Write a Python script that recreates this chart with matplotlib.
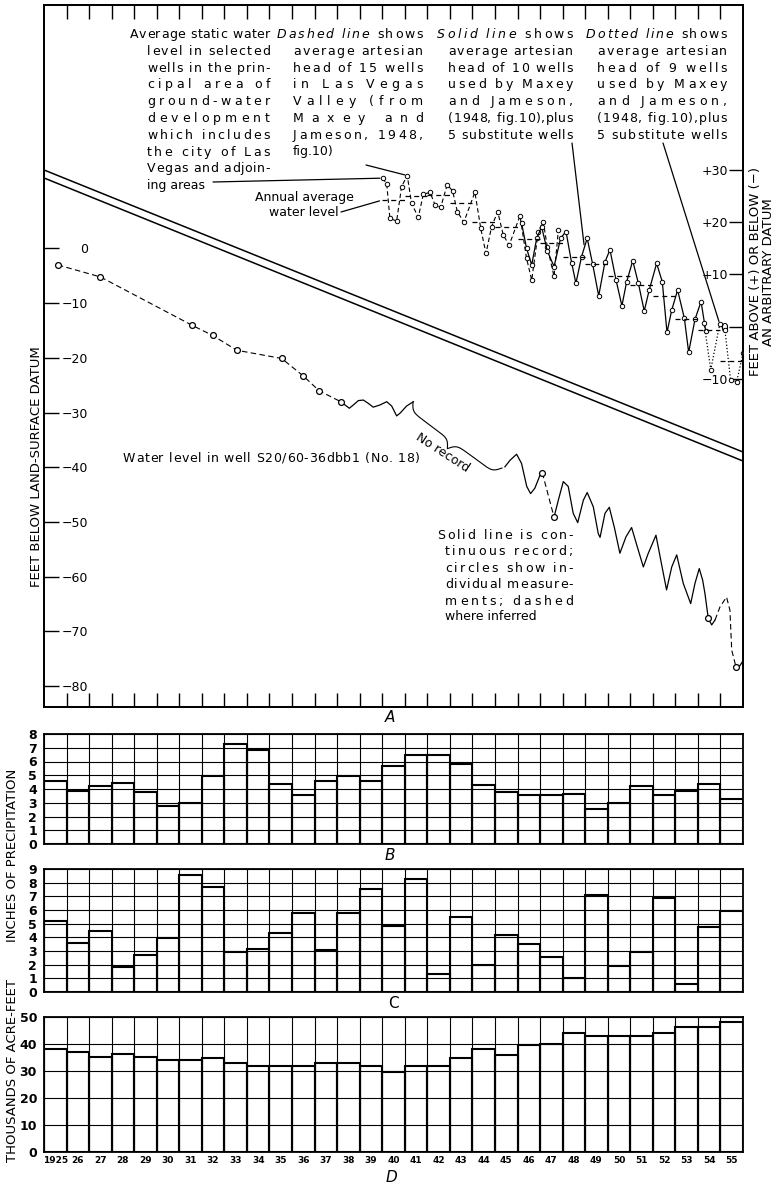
import numpy as np
import matplotlib
matplotlib.use('Agg')
import matplotlib.pyplot as plt

# ---- data ----
years = np.arange(1925, 1956)
year_labels = ['1925'] + [str(y)[2:] for y in range(1926, 1956)]

# B - precipitation, inches
precip_b = [4.55, 3.85, 4.2, 4.45, 3.75, 2.8, 2.95, 4.95, 7.25, 6.85, 4.4, 3.6, 4.6, 4.95, 4.55,
            5.65, 6.5, 6.45, 5.8, 4.3, 3.75, 3.55, 3.6, 3.65, 2.55, 3.0, 4.25, 3.55, 3.85, 4.4, 3.3]
# C - precipitation, inches
precip_c = [5.2, 3.55, 4.45, 1.8, 2.7, 3.95, 8.55, 7.65, 2.9, 3.15, 4.3, 5.75, 3.05, 5.8, 7.55,
            4.85, 8.3, 1.3, 5.5, 1.95, 4.2, 3.5, 2.55, 1.0, 7.1, 1.9, 2.95, 6.9, 0.55, 4.75, 5.9]
# D - thousands of acre-feet
pumpage_d = [38.0, 37.0, 35.1, 36.2, 35.1, 33.9, 33.9, 35.0, 32.9, 32.0, 31.9, 32.0, 32.9, 33.1, 31.9,
             29.8, 32.0, 31.9, 35.0, 38.1, 36.0, 39.7, 40.1, 44.0, 43.1, 42.9, 43.1, 43.9, 46.2, 46.2, 48.1]

# A - well S20/60-36dbb1, feet below land surface
well_meas_t = [1925.61, 1927.5, 1931.55, 1932.48, 1933.55, 1935.54, 1936.5, 1937.2, 1938.16]
well_meas_v = [-3.0, -5.2, -14.0, -15.9, -18.6, -20.1, -23.3, -26.0, -28.0]
rec1_t = [1938.16, 1938.35, 1938.54, 1938.72, 1938.94, 1939.16, 1939.38, 1939.6, 1939.9, 1940.2,
          1940.42, 1940.64, 1940.79, 1941.08, 1941.38]
rec1_v = [-28.0, -28.6, -29.2, -28.6, -27.8, -27.7, -28.3, -29.0, -28.6, -28.0,
          -28.8, -30.6, -30.1, -28.8, -28.0]
rec2_t = [1945.44, 1945.67, 1945.96, 1946.18, 1946.41, 1946.58, 1946.77, 1947.0, 1947.1]
rec2_v = [-39.9, -38.7, -37.6, -39.3, -43.5, -44.8, -43.8, -41.4, -41.0]
gap2_t = [1947.1, 1947.62]
gap2_v = [-41.0, -49.1]
rec3_t = [1947.62, 1947.81, 1948.03, 1948.25, 1948.47, 1948.67, 1948.92, 1949.09, 1949.36, 1949.58,
          1949.66, 1949.88, 1950.07, 1950.29, 1950.54, 1950.81, 1951.06, 1951.31, 1951.58, 1951.8,
          1952.14, 1952.35, 1952.61, 1952.84, 1953.06, 1953.35, 1953.68, 1953.87, 1954.06, 1954.21,
          1954.31, 1954.46, 1954.61, 1954.76]
rec3_v = [-49.1, -46.0, -42.6, -43.5, -48.4, -50.1, -46.0, -44.6, -47.2, -52.1,
          -52.8, -48.4, -47.3, -50.9, -55.7, -52.7, -51.0, -54.5, -58.2, -55.7,
          -52.4, -56.9, -62.4, -58.2, -56.0, -61.2, -64.9, -61.2, -58.5, -60.6,
          -63.0, -67.6, -68.8, -67.9]
gap3_t = [1954.76, 1954.98, 1955.27, 1955.42, 1955.5, 1955.69]
gap3_v = [-67.9, -65.5, -63.7, -66.1, -73.4, -76.5]
rec4_t = [1955.69, 1955.79, 1955.98]
rec4_v = [-76.5, -76.7, -75.5]
extra_meas_t = [1947.1, 1947.62, 1954.46, 1955.69]
extra_meas_v = [-41.0, -49.1, -67.6, -76.5]

# A - average artesian head, feet above/below arbitrary datum
dashed_t = [1940.02, 1940.2, 1940.34, 1940.64, 1940.86, 1941.11, 1941.3, 1941.6, 1941.82, 1942.12,
            1942.34, 1942.59, 1942.88, 1943.12, 1943.33, 1943.62, 1944.11, 1944.37, 1944.6, 1944.85,
            1945.12, 1945.37, 1945.63, 1946.11, 1946.4, 1946.63, 1946.92, 1947.14, 1947.32, 1947.62,
            1947.81]
dashed_v = [28.4, 27.3, 20.7, 20.2, 26.8, 28.9, 23.6, 20.9, 25.3, 25.7,
            23.3, 22.8, 27.1, 26.0, 22.0, 20.0, 25.7, 18.8, 14.0, 19.1,
            22.0, 17.5, 15.6, 21.2, 13.1, 8.9, 18.2, 20.1, 15.3, 9.6,
            18.4]
solid_t = [1946.18, 1946.4, 1946.63, 1946.85, 1947.07, 1947.32, 1947.62, 1947.91, 1948.15, 1948.4,
           1948.59, 1948.84, 1949.09, 1949.33, 1949.6, 1949.88, 1950.1, 1950.37, 1950.63, 1950.84,
           1951.11, 1951.36, 1951.62, 1951.84, 1952.17, 1952.42, 1952.63, 1952.84, 1953.1, 1953.4,
           1953.59, 1953.87, 1954.14, 1954.35]
solid_v = [19.8, 15.0, 11.8, 16.9, 19.1, 14.5, 11.5, 16.9, 18.2, 12.2,
           8.3, 13.4, 16.9, 12.0, 5.9, 12.4, 14.7, 8.9, 4.0, 8.6,
           12.6, 8.3, 3.0, 7.0, 12.1, 8.6, -1.1, 3.2, 7.0, 1.6,
           -4.9, 1.4, 4.8, -0.9]
dotted_t = [1954.27, 1954.57, 1954.97, 1955.2, 1955.45, 1955.72, 1956.0]
dotted_v = [0.7, -8.2, 0.5, -0.7, -10.2, -10.5, -5.1]

avg_dashed_yr = [1940, 1941, 1942, 1943, 1944, 1945, 1946, 1947]
avg_dashed_v = [24.2, 24.9, 25.2, 23.6, 20.0, 19.1, 16.7, 16.0]
avg_solid_yr = [1948, 1949, 1950, 1951, 1952, 1953, 1954]
avg_solid_v = [13.3, 12.0, 9.6, 8.0, 5.9, 1.4, -0.6]
avg_dotted_yr = [1955]
avg_dotted_v = [-6.5]

left_ticks = [0, -10, -20, -30, -40, -50, -60, -70, -80]
right_ticks = [30, 20, 10, 0, -10]

# ---- figure ----
W_PX, H_PX = 780, 1184
fig = plt.figure(figsize=(7.8, 11.84), dpi=100)
renderer = fig.canvas.get_renderer()


def px(x, y):
    return x / W_PX, 1 - y / H_PX


def box(top, bot):
    return [44 / W_PX, (H_PX - bot) / H_PX, 699 / W_PX, (bot - top) / H_PX]


def fmt(v, plus=False):
    if v < 0:
        return '\u2212%d' % -v
    if v > 0 and plus:
        return '+%d' % v
    return '%d' % v


FS = 9


def justify(line, x0, x1, y, italic_chars=0, fs=FS):
    # letter-spaced line filling x0..x1, as in the typeset original
    sp = 0.318 * fs * 100 / 72
    items = []
    for i, ch in enumerate(line):
        if ch == ' ':
            items.append((None, sp))
            continue
        t = fig.text(0, 0, ch, fontsize=fs, va='baseline', ha='left',
                     style='italic' if i < italic_chars else 'normal')
        items.append((t, t.get_window_extent(renderer).width))
    total = sum(w for _, w in items)
    gap = (x1 - x0 - total) / max(len(items) - 1, 1)
    x = x0
    for t, w in items:
        if t is not None:
            t.set_position(px(x, y + 4))
        x += w + gap


def block(lines, first_left, left, right, y0=34, dy=16.8, italic_chars=0, fs=FS, full_last=False):
    for i, line in enumerate(lines):
        y = y0 + dy * i
        if i == len(lines) - 1 and not full_last:
            fig.text(*px(left, y), line, ha='left', va='center', fontsize=fs)
        else:
            justify(line, first_left if i == 0 else left, right, y,
                    italic_chars if i == 0 else 0, fs)


# panel A
axA = fig.add_axes(box(5, 707))
axA.set_xlim(1925, 1956)
axA.set_ylim(-83.8, 44.5)
axR = axA.twinx()
axR.set_ylim(-72.7, 61.5)

for ax in (axA, axR):
    for s in ax.spines.values():
        s.set_linewidth(1.3)

axA.set_xticks(np.arange(1926, 1956))
axA.tick_params(axis='x', direction='in', length=10, width=1, top=True, labelbottom=False)
axA.set_yticks(left_ticks)
axA.set_yticklabels([fmt(v) for v in left_ticks])
axA.tick_params(axis='y', direction='in', length=11, width=1, pad=-31.7, labelsize=9)

axR.set_yticks(right_ticks)
axR.set_yticklabels([fmt(v, plus=True) for v in right_ticks])
axR.tick_params(axis='y', direction='in', length=10, width=1, pad=-10.5, labelsize=9)
for t in axR.get_yticklabels():
    t.set_horizontalalignment('right')

# break lines
axA.plot([0, 1], [0.765, 0.3632], transform=axA.transAxes, color='k', lw=1.1)
axA.plot([0, 1], [0.7536, 0.3504], transform=axA.transAxes, color='k', lw=1.1)

# well hydrograph
dash = (5, 3)
axA.plot(well_meas_t + [rec1_t[0]], well_meas_v + [rec1_v[0]], color='k', lw=0.8, dashes=dash)
axA.plot(rec1_t, rec1_v, color='k', lw=0.9)
axA.plot(rec2_t, rec2_v, color='k', lw=0.9)
axA.plot(gap2_t, gap2_v, color='k', lw=0.8, dashes=dash)
axA.plot(rec3_t, rec3_v, color='k', lw=0.9)
axA.plot(gap3_t, gap3_v, color='k', lw=0.8, dashes=dash)
axA.plot(rec4_t, rec4_v, color='k', lw=0.9)
axA.plot(well_meas_t + extra_meas_t, well_meas_v + extra_meas_v, 'o', ms=4.2,
         mfc='white', mec='k', mew=0.9)

# artesian head
mk = dict(marker='o', ms=3.2, mfc='white', mec='k', mew=0.7)
axR.plot(dashed_t, dashed_v, color='k', lw=0.8, dashes=(4, 2.5), **mk)
axR.plot(solid_t, solid_v, color='k', lw=0.9, **mk)
axR.plot(dotted_t, dotted_v, color='k', lw=0.9, ls=':', **mk)
for yrs, vals in ((avg_dashed_yr, avg_dashed_v), (avg_solid_yr, avg_solid_v),
                  (avg_dotted_yr, avg_dotted_v)):
    for y, v in zip(yrs, vals):
        axR.plot([y, y + 1], [v, v], color='k', lw=0.9, dashes=(4, 3))

# leaders
lead = dict(arrowstyle='-', color='k', lw=0.9, shrinkA=0, shrinkB=2)
axR.annotate('', xy=(dashed_t[0], dashed_v[0]), xytext=px(213, 182),
             textcoords='figure fraction', arrowprops=lead)
axR.annotate('', xy=(avg_dashed_yr[0], avg_dashed_v[0]), xytext=px(341, 212),
             textcoords='figure fraction', arrowprops=lead)
axR.annotate('', xy=(dashed_t[5], dashed_v[5]), xytext=px(366, 165),
             textcoords='figure fraction', arrowprops=lead)
axR.annotate('', xy=((solid_t[11] + solid_t[12]) / 2, (solid_v[11] + solid_v[12]) / 2),
             xytext=px(572, 143), textcoords='figure fraction', arrowprops=lead)
axR.annotate('', xy=(dotted_t[2], dotted_v[2]), xytext=px(663, 143),
             textcoords='figure fraction', arrowprops=lead)

# text blocks
block(["Average static water", "level in selected", "wells in the prin-", "cipal area of",
       "ground-water", "development", "which includes", "the city of Las",
       "Vegas and adjoin-", "ing areas"], 130, 147, 270)
block(["Dashed line shows", "average artesian", "head of 15 wells", "in Las Vegas", "Valley (from",
       "Maxey and", "Jameson, 1948,", "fig.10)"], 277, 293, 423, italic_chars=11)
block(["Solid line shows", "average artesian", "head of 10 wells", "used by Maxey", "and Jameson,",
       "(1948, fig.10),plus", "5 substitute wells"], 437, 448, 573, italic_chars=10, full_last=True)
block(["Dotted line shows", "average artesian", "head of 9 wells", "used by Maxey", "and Jameson,",
       "(1948, fig.10),plus", "5 substitute wells"], 586, 597, 727, italic_chars=11, full_last=True)

fig.text(*px(304, 198), "Annual average", ha='center', va='center', fontsize=FS)
fig.text(*px(304, 213), "water level", ha='center', va='center', fontsize=FS)
justify("Water level in well S20/60-36dbb1 (No. 18)", 123, 420, 458)
fig.text(*px(443, 453), "No record", rotation=-33, ha='center', va='center', fontsize=FS)
block(["Solid line is con-", "tinuous record;", "circles show in-", "dividual measure-",
       "ments; dashed", "where inferred"], 437, 445, 573, y0=535, dy=16.4)

# brace over the gap in record
p0 = np.array([413.0, 402.0])
p1 = np.array([502.0, 468.0])
tt = np.linspace(0, 0.5, 80)
half = 1 / (1 + np.exp(-40 * (tt - tt[0]))) + 1 / (1 + np.exp(-40 * (tt - tt[-1])))
bx = np.concatenate([tt, tt + 0.5])
by = np.concatenate([half, half[::-1]])
by = (by - by[0]) / (by.max() - by[0])
u = (p1 - p0) / np.linalg.norm(p1 - p0)
n = np.array([-u[1], u[0]])
pts = p0 + np.outer(bx * np.linalg.norm(p1 - p0), u) + np.outer(by * 17, n)
axA.plot(pts[:, 0] / W_PX, 1 - pts[:, 1] / H_PX, transform=fig.transFigure, color='k', lw=0.8, clip_on=False)

# y labels
fig.text(*px(37, 467), "FEET BELOW LAND-SURFACE DATUM", rotation=90, ha='center', va='center', fontsize=9.5)
fig.text(*px(762, 272), "FEET ABOVE (+) OR BELOW (\u2212)\nAN ARBITRARY DATUM", rotation=90,
         ha='center', va='center', fontsize=9.5, multialignment='center', linespacing=1.1)
fig.text(*px(13, 855), "INCHES OF PRECIPITATION", rotation=90, ha='center', va='center', fontsize=9.5)
fig.text(*px(13, 1071), "THOUSANDS OF ACRE-FEET", rotation=90, ha='center', va='center', fontsize=9.5)


# bar panels
def bar_panel(top, bot, vals, ymax, step):
    ax = fig.add_axes(box(top, bot))
    ax.bar(years, vals, width=1, align='edge', fill=False, edgecolor='k', linewidth=1.5)
    ax.set_xlim(1925, 1956)
    ax.set_ylim(0, ymax)
    ax.set_yticks(np.arange(0, ymax + 1, step))
    ax.set_xticks(np.arange(1925, 1957), minor=True)
    ax.set_xticks(years + 0.5)
    ax.grid(which='minor', axis='x', color='k', lw=0.8)
    ax.grid(which='major', axis='y', color='k', lw=0.8)
    ax.tick_params(which='both', length=0)
    ax.tick_params(axis='y', pad=5, labelsize=9)
    for t in ax.get_yticklabels():
        t.set_fontweight('bold')
    ax.set_xticklabels([])
    for s in ax.spines.values():
        s.set_linewidth(1.3)
    return ax


axB = bar_panel(734, 844, precip_b, 8, 1)
axC = bar_panel(869, 992, precip_c, 9, 1)
axD = bar_panel(1017, 1152, pumpage_d, 50, 10)
axD.set_xticklabels(year_labels, fontsize=6.5, fontweight='bold')
axD.tick_params(axis='x', pad=3)

fig.text(*px(390, 718), "A", style='italic', ha='center', va='center', fontsize=11)
fig.text(*px(390, 855), "B", style='italic', ha='center', va='center', fontsize=11)
fig.text(*px(393, 1003), "C", ha='center', va='center', fontsize=11)
fig.text(*px(391, 1177), "D", style='italic', ha='center', va='center', fontsize=11)

fig.savefig('out.png', dpi=100)
